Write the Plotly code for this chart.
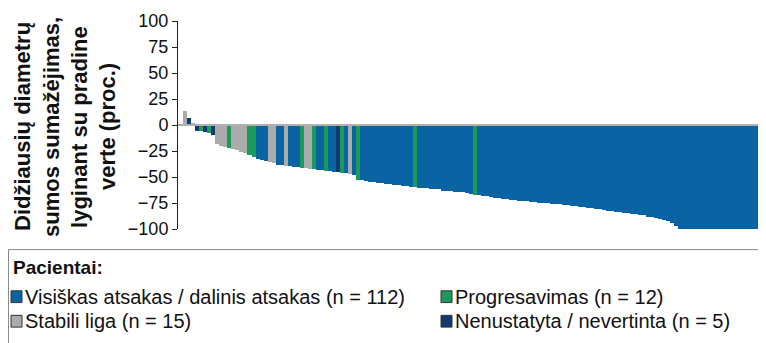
import plotly.graph_objects as go

# ---- data ----
values = [13, 7, 1, -6, -6, -7, -8, -10, -18, -20,
          -21, -22, -23, -24, -26, -27, -29, -31, -33, -34,
          -35, -36, -37, -38, -38, -39, -39, -40, -40, -41,
          -41, -42, -42, -43, -43, -44, -44, -45, -45, -46,
          -46, -47, -48, -53, -53, -54, -55, -55, -56, -56,
          -57, -57, -58, -58, -59, -59, -60, -60, -61, -61,
          -61, -62, -62, -62, -63, -63, -63, -64, -64, -64,
          -65, -66, -67, -67, -68, -68, -69, -70, -70, -71,
          -71, -72, -72, -73, -73, -73, -74, -74, -75, -75,
          -75, -76, -76, -76, -77, -77, -78, -78, -79, -79,
          -80, -80, -81, -81, -82, -83, -83, -84, -84, -85,
          -85, -86, -86, -87, -87, -88, -88, -89, -90, -91,
          -92, -94, -97, -100, -100, -100, -100, -100, -100, -100,
          -100, -100, -100, -100, -100, -100, -100, -100, -100, -100,
          -100, -100, -100, -100]

# status code per bar: B = response, P = progression, S = stable, N = not evaluable
status = list(
    "SNSNPNPNSS"
    "SPSSSSPPBB"
    "BSSBBSBBBP"
    "SSPBBPBBNP"
    "BSBPBBBBBB"
    "BBBBBBBPBB"
    "BBBBBBBBBB"
    "BBPBBBBBBB"
    "BBBBBBBBBB"
    "BBBBBBBBBB"
    "BBBBBBBBBB"
    "BBBBBBBBBB"
    "BBBBBBBBBB"
    "BBBBBBBBBB"
    "BBBB"
)

categories = ["B", "P", "S", "N"]
labels = {
    "B": "Visiškas atsakas / dalinis atsakas (n = 112)",
    "P": "Progresavimas (n = 12)",
    "S": "Stabili liga (n = 15)",
    "N": "Nenustatyta / nevertinta (n = 5)",
}
colors = {"B": "#0a63a3", "P": "#1c9a5c", "S": "#ababab", "N": "#123a72"}

y_ticks = [100, 75, 50, 25, 0, -25, -50, -75, -100]
y_ticktext = [str(v).replace("-", "\u2212") for v in y_ticks]

y_title_lines = ["Didžiausių diametrų", "sumos sumažėjimas,", "lyginant su pradine", "verte (proc.)"]
legend_title = "<b>Pacientai:</b>"

# ---- figure (page has an 8px body margin, so the figure is offset by 8px) ----
OFF = 8
W, H = 766 - OFF, 343 - OFF
ML, MR, MT, MB = 178 - OFF, 3, 17 - OFF, 343 - 229
PW, PH = W - ML - MR, H - MT - MB
FONT = "Liberation Sans, Arial, sans-serif"


def px(x):
    return (x - OFF - ML) / PW


def py(y):
    return (H - MB - (y - OFF)) / PH


fig = go.Figure()
for c in categories:
    xs = [i for i, s in enumerate(status) if s == c]
    ys = [values[i] for i in xs]
    fig.add_trace(go.Bar(x=xs, y=ys, marker=dict(color=colors[c], line=dict(width=0)),
                         name=labels[c], showlegend=False))

fig.update_layout(
    width=W, height=H,
    margin=dict(l=ML, r=MR, t=MT, b=MB),
    plot_bgcolor="white", paper_bgcolor="white",
    bargap=0,
    xaxis=dict(visible=False, range=[-1.75, 143.5]),
    yaxis=dict(range=[-100, 100], tickvals=y_ticks, ticktext=y_ticktext,
               showgrid=False, showline=True, linecolor="#222", linewidth=1,
               ticks="outside", ticklen=5, tickcolor="#222",
               zeroline=False, ticklabeloverflow="allow",
               tickfont=dict(family=FONT, size=18, color="#111")),
    font=dict(family=FONT, color="#111"),
)

# zero line across the plot
fig.add_shape(type="line", xref="paper", yref="y", x0=0, x1=1, y0=0, y1=0,
              line=dict(color="#b0b0b0", width=2), layer="above")

# y title, one rotated line at a time
for line_text, cx in zip(y_title_lines, [23, 52, 80, 108]):
    fig.add_annotation(xref="paper", yref="paper", x=px(cx), y=py(125),
                       text="<b>" + line_text + "</b>",
                       textangle=-90, showarrow=False, xanchor="center", yanchor="middle",
                       font=dict(family=FONT, size=22, color="#111"))

# legend box
fig.add_shape(type="rect", xref="paper", yref="paper", x0=px(8.5), x1=px(800), y0=py(250), y1=py(400),
              line=dict(color="#8a8a8a", width=1), fillcolor="white", layer="below")
fig.add_annotation(xref="paper", yref="paper", x=px(11), y=py(268), text=legend_title,
                   showarrow=False, xanchor="left", yanchor="middle",
                   font=dict(family=FONT, size=19, color="#111"))

legend_pos = {"B": (11, 298), "P": (441, 298), "S": (11, 323), "N": (441, 323)}
for c in categories:
    lx, ly = legend_pos[c]
    fig.add_shape(type="rect", xref="paper", yref="paper",
                  x0=px(lx), x1=px(lx + 11), y0=py(ly + 6), y1=py(ly - 6),
                  line=dict(color="#333", width=1), fillcolor=colors[c])
    fig.add_annotation(xref="paper", yref="paper", x=px(lx + 12), y=py(ly), text=labels[c],
                       showarrow=False, xanchor="left", yanchor="middle",
                       font=dict(family=FONT, size=20, color="#111"))

fig.write_html("out.html")
